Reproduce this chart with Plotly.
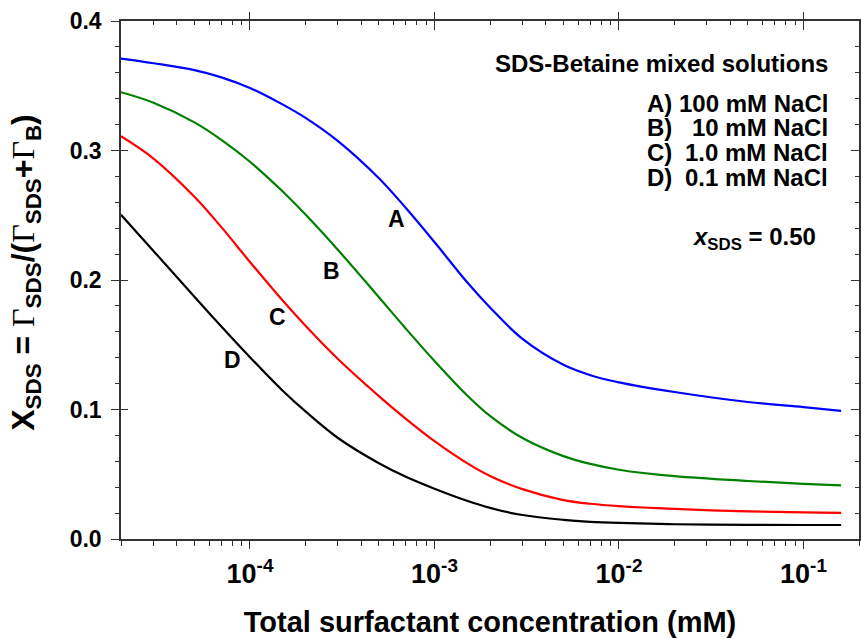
import numpy as np
import plotly.graph_objects as go

# Total surfactant concentration (mM)
conc = [2e-5, 3e-5, 5e-5, 7e-5, 1e-4, 1.5e-4, 2e-4, 3e-4, 5e-4, 7e-4,
        1e-3, 1.5e-3, 2e-3, 3e-3, 5e-3, 7e-3, 1e-2, 2e-2, 5e-2, 0.1, 0.16]

# X_SDS for each NaCl concentration
curve_A = [0.3710, 0.3674, 0.3621, 0.3565, 0.3483, 0.3356, 0.3252, 0.3073, 0.2786, 0.2556,
           0.2293, 0.1984, 0.1788, 0.1545, 0.1345, 0.1265, 0.1210, 0.1135, 0.1058, 0.1019, 0.0990]
curve_B = [0.3450, 0.3369, 0.3217, 0.3082, 0.2913, 0.2685, 0.2505, 0.2232, 0.1867, 0.1624,
           0.1375, 0.1110, 0.0950, 0.0780, 0.0640, 0.0580, 0.0535, 0.0485, 0.0448, 0.0426, 0.0414]
curve_C = [0.3110, 0.2938, 0.2643, 0.2408, 0.2139, 0.1843, 0.1647, 0.1390, 0.1103, 0.0927,
           0.0755, 0.0586, 0.0487, 0.0385, 0.0300, 0.0272, 0.0254, 0.0232, 0.0213, 0.0205, 0.0201]
curve_D = [0.2504, 0.2224, 0.1871, 0.1641, 0.1404, 0.1147, 0.0985, 0.0780, 0.0585, 0.0480,
           0.0388, 0.0295, 0.0240, 0.0185, 0.0148, 0.0133, 0.0124, 0.0114, 0.0109, 0.0108, 0.0108]

series_names = ["A", "B", "C", "D"]
series_values = [curve_A, curve_B, curve_C, curve_D]
series_colors = ["#0000FF", "#008000", "#FF0000", "#000000"]

# curve label positions (concentration, X_SDS)
label_x = [6.2e-4, 2.77e-4, 1.41e-4, 8.0e-5]
label_y = [0.247, 0.207, 0.1715, 0.138]

legend_letters = ["A)", "B)", "C)", "D)"]
legend_rest = ["100 mM NaCl", "10 mM NaCl", "1.0 mM NaCl", "0.1 mM NaCl"]

x_major = [1e-4, 1e-3, 1e-2, 1e-1]
x_major_text = ["<b>10<sup>-4</sup></b>", "<b>10<sup>-3</sup></b>",
                "<b>10<sup>-2</sup></b>", "<b>10<sup>-1</sup></b>"]
x_minor = [m * 10.0 ** e for e in range(-5, 0) for m in range(2, 10)]

FONT = "Liberation Sans, Arial, sans-serif"
AXC = "#333333"
xr = [np.log10(2e-5), np.log10(0.2)]
yr = [0, 0.4]

fig = go.Figure()
for n, v, c in zip(series_names, series_values, series_colors):
    fig.add_trace(go.Scatter(x=conc, y=v, mode="lines", name=n,
                             line=dict(color=c, width=2.2, shape="spline", smoothing=1.0),
                             showlegend=False, hoverinfo="skip"))

# helper traces to register overlay axes (frame ticks)
fig.add_trace(go.Scatter(x=[], y=[], xaxis="x2", yaxis="y2", showlegend=False, hoverinfo="skip"))
fig.add_trace(go.Scatter(x=[], y=[], xaxis="x3", yaxis="y3", showlegend=False, hoverinfo="skip"))

common_x = dict(type="log", range=xr, showgrid=False, zeroline=False)
common_y = dict(range=yr, showgrid=False, zeroline=False)

fig.update_layout(
    width=861, height=639,
    margin=dict(l=121, r=2, t=21, b=100),
    paper_bgcolor="white", plot_bgcolor="white",
    font=dict(family=FONT, color="black"),
    xaxis=dict(**common_x, showline=True, linecolor=AXC, linewidth=1.5,
               ticks="outside", ticklen=8, tickwidth=1.3, tickcolor=AXC,
               tickmode="array", tickvals=x_major, ticktext=x_major_text,
               ticklabelstandoff=2,
               tickfont=dict(family=FONT, size=27, color="black"),
               minor=dict(tickmode="array", tickvals=x_minor, ticks="outside",
                          ticklen=5, tickwidth=1, tickcolor=AXC, showgrid=False),
               title=dict(text="<b>Total surfactant concentration (mM)</b>",
                          font=dict(family=FONT, size=29, color="black"), standoff=24)),
    xaxis2=dict(**common_x, overlaying="x", side="top", anchor="y2",
                showline=True, linecolor=AXC, linewidth=1.5,
                ticks="inside", ticklen=9, tickwidth=1.3, tickcolor=AXC,
                tickmode="array", tickvals=x_major, showticklabels=False,
                minor=dict(tickmode="array", tickvals=x_minor, ticks="inside",
                           ticklen=4, tickwidth=1, tickcolor=AXC, showgrid=False)),
    xaxis3=dict(**common_x, overlaying="x", side="top", anchor="y3",
                showline=False, ticks="outside", ticklen=8, tickwidth=1.3, tickcolor=AXC,
                tickmode="array", tickvals=x_major, showticklabels=False),
    yaxis=dict(**common_y, showline=True, linecolor=AXC, linewidth=1.5,
               ticks="outside", ticklen=8, tickwidth=1.3, tickcolor=AXC,
               tickmode="linear", tick0=0, dtick=0.1, tickformat=".1f",
               ticklabelstandoff=5,
               tickfont=dict(family=FONT, size=23, color="black", weight="bold"),
               minor=dict(tickmode="linear", tick0=0, dtick=0.02, ticks="outside",
                          ticklen=4, tickwidth=1, tickcolor=AXC, showgrid=False)),
    yaxis2=dict(**common_y, overlaying="y", side="right", anchor="x2",
                showline=True, linecolor=AXC, linewidth=1.5,
                ticks="inside", ticklen=8, tickwidth=1.3, tickcolor=AXC,
                tickmode="linear", tick0=0, dtick=0.1, showticklabels=False,
                minor=dict(tickmode="linear", tick0=0, dtick=0.02, ticks="inside",
                           ticklen=4, tickwidth=1, tickcolor=AXC, showgrid=False)),
    yaxis3=dict(**common_y, overlaying="y", side="left", anchor="x3",
                showline=False, ticks="inside", ticklen=7, tickwidth=1.3, tickcolor=AXC,
                tickmode="linear", tick0=0, dtick=0.1, showticklabels=False),
)

# curve labels
for n, lx, ly in zip(series_names, label_x, label_y):
    fig.add_annotation(x=np.log10(lx), y=ly, xref="x", yref="y", text=f"<b>{n}</b>",
                       showarrow=False, font=dict(family=FONT, size=23, color="black"),
                       xanchor="center", yanchor="middle")

# legend block text
fig.add_annotation(x=0.9607, y=0.9176, xref="paper", yref="paper",
                   text="<b>SDS-Betaine mixed solutions</b>", showarrow=False,
                   xanchor="right", yanchor="middle",
                   font=dict(family=FONT, size=24, color="black"))
legend_y = [0.8404, 0.795, 0.7467, 0.6985]
for let, rest, yy in zip(legend_letters, legend_rest, legend_y):
    fig.add_annotation(x=0.710, y=yy, xref="paper", yref="paper", text=f"<b>{let}</b>",
                       showarrow=False, xanchor="left", yanchor="middle",
                       font=dict(family=FONT, size=24, color="black"))
    fig.add_annotation(x=0.9607, y=yy, xref="paper", yref="paper", text=f"<b>{rest}</b>",
                       showarrow=False, xanchor="right", yanchor="middle",
                       font=dict(family=FONT, size=24, color="black"))
fig.add_annotation(x=0.9444, y=0.58, xref="paper", yref="paper",
                   text="<b><i>x</i><sub>SDS</sub> = 0.50</b>", showarrow=False,
                   xanchor="right", yanchor="middle",
                   font=dict(family=FONT, size=24, color="black"))

# y-axis title
G = '<span style="font-family:Liberation Serif;font-weight:normal">Γ</span>'
ytitle = f"<b>X<sub>SDS</sub> = {G}<sub>SDS</sub>/({G}<sub>SDS</sub>+{G}<sub>B</sub>)</b>"
fig.add_annotation(x=0, y=0.514, xref="paper", yref="paper", xshift=-95,
                   text=ytitle, textangle=-90, showarrow=False,
                   xanchor="center", yanchor="middle",
                   font=dict(family=FONT, size=32, color="black"))

fig.write_html("out.html")
